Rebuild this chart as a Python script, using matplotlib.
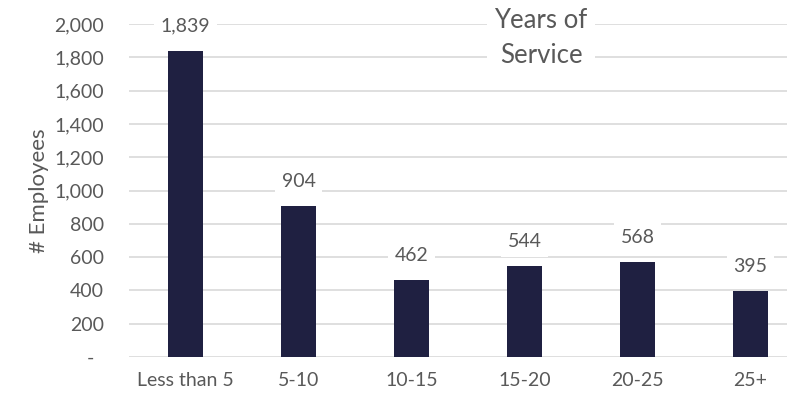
import matplotlib.pyplot as plt
from matplotlib.ticker import FuncFormatter

categories = ['Less than 5', '5-10', '10-15', '15-20', '20-25', '25+']
employees = [1839, 904, 462, 544, 568, 395]

bar_color = '#1F2041'
text_color = '#595959'
grid_color = '#D9D9D9'

plt.rcParams['font.family'] = ['Lato', 'DejaVu Sans']

fig = plt.figure(figsize=(7.87, 4.0), dpi=100)
# axes extends past the right edge like the cropped original
ax = fig.add_axes([129 / 787, 43 / 400, 678 / 787, 333 / 400])

x = list(range(len(categories)))
ax.bar(x, employees, width=0.31, color=bar_color, zorder=3)

ax.set_xlim(-0.5, 5.5)
ax.set_ylim(0, 2000)
ax.set_yticks(range(0, 2001, 200))
ax.yaxis.set_major_formatter(FuncFormatter(lambda v, p: '-  ' if v == 0 else f'{int(v):,}'))
ax.set_xticks(x)
ax.set_xticklabels(categories)

ax.grid(axis='y', color=grid_color, linewidth=1.2, zorder=0)
for s in ax.spines.values():
    s.set_visible(False)
ax.tick_params(axis='both', length=0, colors=text_color, labelsize=14)
ax.tick_params(axis='y', pad=18)
ax.tick_params(axis='x', pad=11)

ax.set_ylabel('# Employees', color=text_color, fontsize=16, labelpad=4)

for xi, v in zip(x, employees):
    ax.annotate(f'{v:,}', (xi, v), xytext=(0, 18), textcoords='offset points',
                ha='center', va='center', fontsize=14, color=text_color,
                bbox=dict(boxstyle='square,pad=0.35', fc='white', ec='none'), zorder=4)

fig.text(541 / 787, 1 - 38 / 400, 'Years of\nService', ha='center', va='center',
         fontsize=18.5, color=text_color, linespacing=1.5,
         bbox=dict(boxstyle='square,pad=0.3', fc='white', ec='none'))

fig.savefig('out.png', dpi=100)
